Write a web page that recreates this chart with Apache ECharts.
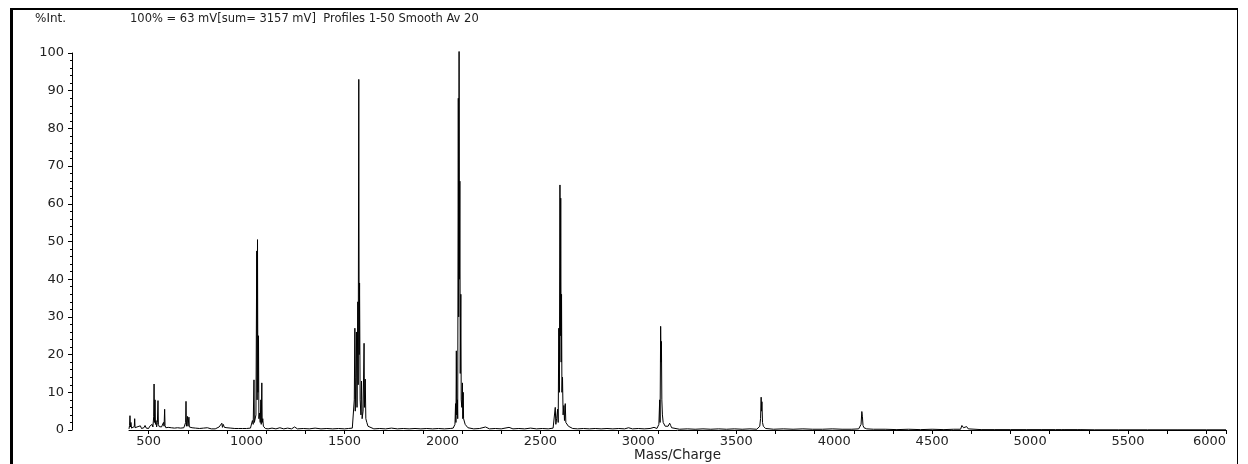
<!DOCTYPE html>
<html>
<head>
<meta charset="utf-8">
<script src="https://cdn.jsdelivr.net/npm/echarts@6/dist/echarts.min.js"></script>
<style>
html,body{margin:0;padding:0;background:#fff;}
#chart{width:1248px;height:464px;}
</style>
</head>
<body>
<div id="chart"></div>
<script>
// Mass spectrum: [m/z, %Int]
var lowMassRegion = [
  [400,0.3],[403,1.2],[405,3.8],[407,0.8],[410,2.0],[413,0.5],[418,1.0],[422,0.4],[427,0.9],[429,3.0],[431,0.6],
  [436,0.8],[440,0.3],[446,0.9],[452,0.5],[458,1.1],[464,0.4],[470,0.8],[476,0.6],[482,1.2],[488,0.5],[494,0.9],
  [500,0.4],[506,1.0],[512,0.6],[518,1.5],[522,0.8],[526,3.5],[528,12.2],[530,2.0],[533,8.0],[535,1.5],[538,2.5],
  [541,0.8],[545,2.0],[548,7.8],[550,1.5],[554,0.9],[560,0.5],[566,0.8],[572,1.2],[576,2.0],[579,1.0],[582,5.5],
  [584,1.2],[588,0.6],[594,0.4],[600,0.7],[608,0.3],[616,0.6],[624,0.3],[632,0.5],[640,0.4],[648,0.6],[656,0.3],
  [664,0.5],[672,0.4],[680,0.6],[686,1.0],[689,2.0],[691,7.6],[693,1.0],[697,1.5],[699,3.6],[701,1.0],[704,1.3],
  [706,3.4],[708,0.8],[714,0.4],[722,0.6],[730,0.3],[740,0.5],[750,0.3],[760,0.4],[770,0.3],[780,0.5],[790,0.3],
  [800,0.6],[810,0.4],[820,0.3],[830,0.4],[840,0.3],[850,0.5],[860,0.8],[866,0.6],[870,1.2],[874,1.8],[877,0.7],
  [881,1.5],[884,1.8],[887,0.7],[891,1.0],[895,0.5],[900,0.6],[910,0.4],[920,0.5],[930,0.3],[940,0.4],[950,0.3],
  [960,0.4],[970,0.3],[980,0.4],[990,0.3],[1000,0.4],[1010,0.3],[1020,0.5]
];
var cluster1050 = [
  [1025,1.0],[1030,2.5],[1034,1.5],[1038,13.3],[1040,2.0],[1044,1.5],[1048,4.0],[1052,47.5],[1054,8.0],
  [1056,50.5],[1058,10.0],[1061,25.0],[1063,3.0],[1066,4.5],[1070,2.0],[1073,8.0],[1075,1.5],[1078,12.5],
  [1080,2.0],[1083,3.0],[1086,1.0],[1090,0.6],[1096,0.4]
];
var gap1 = [
  [1110,0.3],[1130,0.5],[1150,0.3],[1170,0.6],[1190,0.3],[1210,0.5],[1230,0.3],[1245,0.8],[1260,0.3],
  [1290,0.4],[1320,0.3],[1350,0.5],[1380,0.3],[1410,0.4],[1440,0.3],[1470,0.4],[1500,0.3],[1520,0.4],[1540,0.5]
];
var cluster1575 = [
  [1546,1.0],[1550,8.0],[1553,27.0],[1555,5.0],[1558,14.0],[1561,26.0],[1564,6.0],[1568,34.0],[1570,12.0],
  [1573,93.0],[1575,20.0],[1577,39.0],[1580,8.0],[1584,4.0],[1587,13.0],[1590,3.0],[1595,5.0],[1600,23.0],
  [1602,6.0],[1606,13.5],[1609,3.0],[1614,2.0],[1620,1.0],[1628,0.5]
];
var gap2 = [
  [1650,0.3],[1680,0.4],[1710,0.3],[1740,0.5],[1770,0.3],[1800,0.4],[1830,0.3],[1860,0.4],[1890,0.3],
  [1920,0.4],[1950,0.3],[1980,0.4],[2010,0.3],[2040,0.4],[2055,0.5]
];
var cluster2085 = [
  [2060,0.6],[2064,1.5],[2067,7.0],[2069,2.0],[2071,21.0],[2073,4.0],[2076,8.0],[2078,3.0],[2081,88.0],
  [2083,30.0],[2085,100.4],[2087,40.0],[2089,66.0],[2091,15.0],[2094,36.0],[2096,8.0],[2099,6.0],[2102,12.5],
  [2104,3.0],[2106,10.0],[2108,3.0],[2112,2.5],[2116,1.5],[2122,1.0],[2130,0.6],[2140,0.4]
];
var gap3 = [
  [2160,0.3],[2190,0.4],[2220,0.8],[2240,0.3],[2270,0.4],[2300,0.3],[2340,0.7],[2360,0.3],[2390,0.4],
  [2420,0.3],[2450,0.5],[2480,0.3],[2510,0.4],[2540,0.3],[2565,0.5]
];
var cluster2600 = [
  [2572,1.0],[2576,6.0],[2579,1.5],[2583,3.0],[2588,5.5],[2591,2.0],[2594,27.0],[2597,10.0],[2600,65.0],
  [2602,25.0],[2604,61.5],[2606,18.0],[2608,36.0],[2610,10.0],[2613,14.0],[2616,4.0],[2620,6.5],[2623,2.5],
  [2627,7.0],[2630,2.0],[2636,1.5],[2643,1.0],[2652,0.6],[2665,0.4]
];
var gap4 = [
  [2690,0.3],[2720,0.4],[2750,0.3],[2780,0.4],[2810,0.3],[2840,0.4],[2870,0.3],[2900,0.4],[2930,0.3],
  [2950,0.6],[2970,0.3],[3000,0.4],[3030,0.3],[3060,0.4],[3080,0.7],[3095,0.4]
];
var cluster3115 = [
  [3100,0.6],[3105,1.5],[3109,8.0],[3111,2.0],[3114,27.5],[3116,18.0],[3118,23.5],[3120,8.0],[3123,4.0],
  [3127,2.0],[3132,1.5],[3137,1.0],[3145,0.8],[3152,1.0],[3160,1.8],[3165,1.2],[3170,0.6],[3180,0.3]
];
var gap5 = [
  [3210,0.2],[3250,0.3],[3290,0.2],[3330,0.3],[3370,0.2],[3410,0.3],[3450,0.2],[3490,0.3],[3530,0.2],
  [3570,0.3],[3605,0.2]
];
var cluster3630 = [
  [3615,0.4],[3620,1.0],[3624,3.0],[3627,8.7],[3629,5.0],[3631,7.5],[3634,2.0],[3638,1.0],[3644,0.8],[3650,0.4]
];
var gap6 = [
  [3690,0.2],[3740,0.3],[3790,0.2],[3840,0.3],[3890,0.2],[3940,0.2],[3990,0.3],[4040,0.2],[4090,0.2],[4125,0.3]
];
var cluster4140 = [
  [4132,0.3],[4137,1.5],[4141,4.9],[4144,3.5],[4147,1.2],[4152,0.6],[4159,0.8],[4166,0.3]
];
var tailRegion = [
  [4200,0.2],[4260,0.2],[4320,0.1],[4380,0.2],[4440,0.1],[4500,0.2],[4560,0.1],[4610,0.2],[4645,0.2],
  [4652,1.2],[4660,0.6],[4668,0.5],[4676,0.9],[4684,0.3],[4692,0.2],[4750,0.1],[4820,0.1],[4900,0.1],
  [4980,0.1],[5060,0.1],[5130,0.1],[5162,0.1],[5170,0.5],[5178,0.1],[5240,0.1],[5247,0.4],[5255,0.1],
  [5330,0.05],[5450,0.05],[5600,0.05],[5750,0.05],[5900,0.05],[6000,0.05]
];
var xLabelValues = [500,1000,1500,2000,2500,3000,3500,4000,4500,5000,5500,6000];
var xTickValues = [500,700,900,1100,1300,1500,1700,1900,2100,2300,2500,2700,2900,3100,3300,3500,3700,3900,
                   4100,4300,4500,4700,4900,5100,5300,5500,5700,5900,6000];
var headerLeft = '%Int.';
var headerText = '100% = 63 mV[sum= 3157 mV]  Profiles 1-50 Smooth Av 20';
var xAxisName = 'Mass/Charge';

var spectrum = [].concat(lowMassRegion, cluster1050, gap1, cluster1575, gap2, cluster2085, gap3,
  cluster2600, gap4, cluster3115, gap5, cluster3630, gap6, cluster4140, tailRegion);

var FONT = 'DejaVu Sans, Verdana, sans-serif';
var plain = function (v) { return String(v); };
var chart = echarts.init(document.getElementById('chart'), null, {renderer: 'canvas'});
chart.setOption({
  animation: false,
  backgroundColor: '#ffffff',
  grid: {left: 129, right: 22, top: 53, bottom: 34, containLabel: false, outerBoundsMode: 'none'},
  xAxis: {
    type: 'value', min: 400, max: 6000,
    name: xAxisName, nameLocation: 'middle', nameGap: 18, nameMoveOverlap: false,
    nameTextStyle: {fontFamily: FONT, fontSize: 13.5, color: '#222'},
    axisLine: {show: true, lineStyle: {color: '#000', width: 1}},
    axisTick: {show: true, inside: false, length: 4, customValues: xTickValues, lineStyle: {color: '#000'}},
    axisLabel: {customValues: xLabelValues, formatter: plain, fontFamily: FONT, fontSize: 13, color: '#222', margin: 5, alignMaxLabel: 'right'},
    splitLine: {show: false}
  },
  yAxis: {
    type: 'value', min: 0, max: 100, interval: 10, offset: 57,
    axisLine: {show: true, onZero: false, lineStyle: {color: '#000', width: 1}},
    axisTick: {show: true, inside: false, length: 4, lineStyle: {color: '#000'}},
    minorTick: {show: true, splitNumber: 5, length: 2, lineStyle: {color: '#000'}},
    axisLabel: {formatter: plain, fontFamily: FONT, fontSize: 13, color: '#222', margin: 8},
    splitLine: {show: false}
  },
  series: [{
    type: 'line', data: spectrum, showSymbol: false, symbol: 'none', clip: false,
    lineStyle: {color: '#000', width: 1}, silent: true
  }],
  graphic: [
    {type: 'rect', left: 10, top: 8, shape: {width: 3, height: 456}, style: {fill: '#000'}},
    {type: 'rect', left: 10, top: 8, shape: {width: 1228, height: 2}, style: {fill: '#000'}},
    {type: 'rect', left: 1237, top: 8, shape: {width: 1, height: 456}, style: {fill: '#000'}},
    {type: 'text', left: 35, top: 13, style: {text: headerLeft, font: '12px ' + FONT, fill: '#222'}},
    {type: 'text', left: 130, top: 13, style: {text: headerText, font: '11.5px ' + FONT, fill: '#222'}}
  ]
});
</script>
</body>
</html>
